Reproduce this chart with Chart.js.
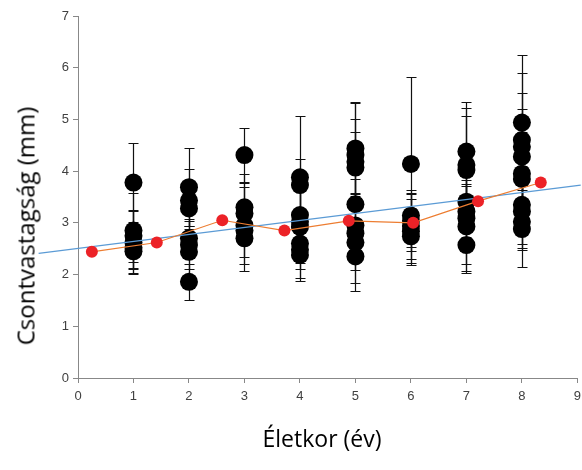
<!DOCTYPE html>
<html><head><meta charset="utf-8">
<script src="https://cdn.jsdelivr.net/npm/chart.js@4"></script>
<style>
html,body{margin:0;padding:0;background:#fff;}
#wrap{position:relative;width:582px;height:470px;overflow:hidden;}
#c{position:absolute;left:0;top:0;}
.yt{position:absolute;left:25px;top:226px;transform:translate(-50%,-50%) rotate(-90deg);font:24px 'Open Sans',sans-serif;white-space:nowrap;color:#000;}
.xt{position:absolute;left:322px;top:438px;transform:translate(-50%,-50%);font:23px 'Open Sans',sans-serif;white-space:nowrap;color:#000;}
</style></head>
<body>
<div id="wrap">
<canvas id="c" width="587" height="470"></canvas>
<div class="yt">Csontvastagság (mm)</div>
<div class="xt">Életkor (év)</div>
</div>
<script>
// Ages (x categories) and individual measurements with symmetric error bars
const ages = [1, 2, 3, 4, 5, 6, 7, 8];
const age1 = [3.78, 2.85, 2.75, 2.62, 2.52, 2.45];
const err1 = [0.76, 0.73, 0.50, 0.60, 0.42, 0.42];
const age2 = [3.69, 3.43, 3.28, 2.70, 2.57, 2.44, 1.86];
const err2 = [0.75, 0.62, 0.35, 0.37, 0.47, 0.45, 0.35];
const age3 = [4.31, 3.30, 3.18, 2.95, 2.85, 2.70];
const err3 = [0.52, 0.65, 0.60, 0.75, 0.51, 0.64];
const age4 = [3.88, 3.73, 3.15, 3.02, 2.92, 2.60, 2.48, 2.38];
const err4 = [1.19, 0.50, 0.75, 0.60, 0.70, 0.50, 0.55, 0.50];
const age5 = [4.44, 4.31, 4.18, 4.07, 3.36, 2.95, 2.80, 2.62, 2.35];
const err5 = [0.89, 1.00, 0.82, 0.69, 0.48, 0.62, 0.71, 0.79, 0.67];
const age6 = [4.14, 3.14, 3.04, 2.94, 2.84, 2.74];
const err6 = [1.69, 0.50, 0.51, 0.63, 0.62, 0.55];
const age7 = [4.38, 4.12, 4.02, 3.41, 3.22, 3.09, 2.93, 2.57];
const err7 = [0.96, 1.11, 1.05, 0.35, 0.50, 0.89, 0.89, 0.50];
const age8 = [4.94, 4.60, 4.47, 4.28, 3.95, 3.85, 3.35, 3.22, 3.02, 2.88];
const err8 = [1.31, 1.29, 1.05, 0.92, 0.80, 0.50, 0.75, 0.71, 0.87, 0.40];
// Group means (red points, orange line)
const meanX = [0.25, 1.42, 2.60, 3.72, 4.88, 6.04, 7.21, 8.34];
const meanY = [2.44, 2.62, 3.05, 2.85, 3.04, 3.00, 3.42, 3.78];
// Linear trend line end points
const trendX = [-0.71, 9.06];
const trendY = [2.41, 3.73];
// Axis ticks
const xTicks = [0,1,2,3,4,5,6,7,8,9];
const yTicks = [0,1,2,3,4,5,6,7];

const groups = [age1,age2,age3,age4,age5,age6,age7,age8];
const errs = [err1,err2,err3,err4,err5,err6,err7,err8];
const indiv = [];
groups.forEach((g,i)=>g.forEach((v,j)=>indiv.push({x:ages[i], y:v, e:errs[i][j]})));

const errorBars = {
  id:'errorBars',
  beforeDatasetsDraw(chart){
    const ctx = chart.ctx, xs = chart.scales.x, ys = chart.scales.y;
    ctx.save();
    ctx.strokeStyle = '#111';
    ctx.lineWidth = 1.2;
    chart.data.datasets[0].data.forEach(p=>{
      const px = Math.round(xs.getPixelForValue(p.x)) + 0.5;
      const y1 = Math.round(ys.getPixelForValue(p.y + p.e)) + 0.5;
      const y2 = Math.round(ys.getPixelForValue(p.y - p.e)) + 0.5;
      ctx.beginPath();
      ctx.moveTo(px, y1); ctx.lineTo(px, y2);
      ctx.moveTo(px-5, y1); ctx.lineTo(px+5, y1);
      ctx.moveTo(px-5, y2); ctx.lineTo(px+5, y2);
      ctx.stroke();
    });
    ctx.restore();
  }
};

const tickFont = {family:"Liberation Sans, Arial, sans-serif", size:13};
new Chart(document.getElementById('c'), {
  type:'scatter',
  data:{datasets:[
    {data:indiv, pointRadius:9, pointHoverRadius:9, backgroundColor:'#000', borderWidth:0, showLine:false, order:3},
    {data:trendX.map((x,i)=>({x, y:trendY[i]})), showLine:true, borderColor:'#5B9BD5', borderWidth:1.2, pointRadius:0, clip:false, order:1},
    {data:meanX.map((x,i)=>({x, y:meanY[i]})), showLine:true, borderColor:'#ED7D31', borderWidth:1.2, pointRadius:6, pointHoverRadius:6, pointBackgroundColor:'#EC2227', pointBorderWidth:0, order:0}
  ]},
  options:{
    responsive:false, animation:false, events:[],
    layout:{padding:{left:0, right:0, top:16, bottom:0}},
    plugins:{legend:{display:false}, tooltip:{enabled:false}},
    scales:{
      x:{type:'linear', min:0, max:9,
        afterBuildTicks(s){ s.ticks = xTicks.map(v=>({value:v})); },
        afterFit(s){ s.height = 92; },
        border:{display:true, color:'#888', width:1},
        grid:{drawOnChartArea:false, drawTicks:true, tickLength:5, color:'#888'},
        ticks:{font:tickFont, color:'#404040', padding:6, maxRotation:0}
      },
      y:{type:'linear', min:0, max:7,
        afterBuildTicks(s){ s.ticks = yTicks.map(v=>({value:v})); },
        afterFit(s){ s.width = 78; },
        border:{display:true, color:'#888', width:1},
        grid:{drawOnChartArea:false, drawTicks:true, tickLength:5, color:'#888'},
        ticks:{font:tickFont, color:'#404040', padding:4}
      }
    }
  },
  plugins:[errorBars]
});
</script>
</body></html>
